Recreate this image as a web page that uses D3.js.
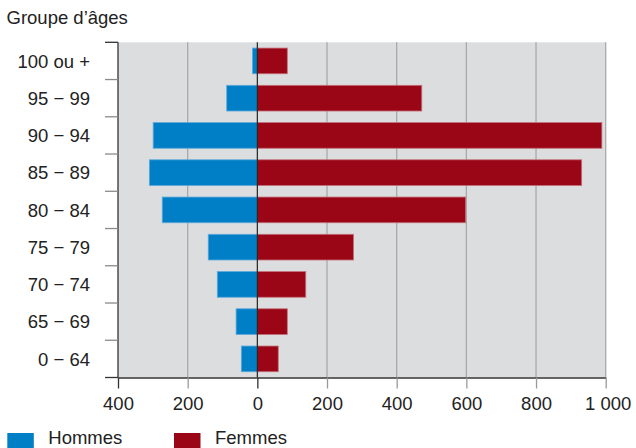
<!DOCTYPE html>
<html>
<head>
<meta charset="utf-8">
<script src="https://cdn.jsdelivr.net/npm/d3@7"></script>
<style>
  html, body { margin: 0; padding: 0; background: #ffffff; }
  svg { display: block; font-family: "Liberation Sans", Arial, sans-serif; }
</style>
</head>
<body>
<svg id="chart" width="636" height="448"></svg>
<script>
// Data
const categories = ["100 ou +", "95 \u2212 99", "90 \u2212 94", "85 \u2212 89", "80 \u2212 84", "75 \u2212 79", "70 \u2212 74", "65 \u2212 69", "0 \u2212 64"];
const hommes = [14, 88, 299, 310, 273, 141, 115, 61, 46];
const femmes = [86, 472, 989, 931, 598, 276, 139, 86, 60];
const xTicks = [-400, -200, 0, 200, 400, 600, 800, 1000];
const seriesNames = ["Hommes", "Femmes"];
const colors = ["#007ec6", "#9b0616"];
const titleText = "Groupe d\u2019\u00e2ges";

(function () {
const FS = 18.5;
const svg = d3.select("#chart");
const mLeft = 118, mRight = 605.7, mTop = 42.3, mBottom = 377.5;

const x = d3.scaleLinear().domain([-400, 1000]).range([mLeft, mRight]);
const yBand = d3.scaleBand().domain(categories).range([mTop, mBottom]).paddingInner(0.31).paddingOuter(0.155);
const yEdge = d3.scaleBand().domain(categories).range([mTop, mBottom]).padding(0);

// background
svg.append("rect").attr("x", mLeft).attr("y", mTop).attr("width", mRight - mLeft).attr("height", mBottom - mTop).attr("fill", "#dcdddf");

// gridlines
svg.append("g").selectAll("line").data(xTicks.filter(d => d !== -400 && d !== 0))
  .join("line")
  .attr("x1", d => x(d)).attr("x2", d => x(d))
  .attr("y1", mTop).attr("y2", mBottom)
  .attr("stroke", "#a9a9ab").attr("stroke-width", 1.3);

// bars
const bars = svg.append("g");
bars.selectAll("rect.h").data(categories).join("rect")
  .attr("class", "h")
  .attr("x", (d, i) => x(-hommes[i]))
  .attr("width", (d, i) => x(0) - x(-hommes[i]))
  .attr("y", d => yBand(d))
  .attr("height", yBand.bandwidth())
  .attr("fill", colors[0])
  .attr("stroke", "#5eaadb").attr("stroke-width", 0.8);
bars.selectAll("rect.f").data(categories).join("rect")
  .attr("class", "f")
  .attr("x", x(0))
  .attr("width", (d, i) => x(femmes[i]) - x(0))
  .attr("y", d => yBand(d))
  .attr("height", yBand.bandwidth())
  .attr("fill", colors[1])
  .attr("stroke", "#c2707a").attr("stroke-width", 0.8);

// zero line
svg.append("line").attr("x1", x(0)).attr("x2", x(0)).attr("y1", mTop).attr("y2", mBottom)
  .attr("stroke", "#222").attr("stroke-width", 1.2);

// x axis
const fmt = d => { const a = Math.abs(d); return a >= 1000 ? d3.format(",")(a).replace(",", "\u00a0") : String(a); };
const xAxis = svg.append("g").attr("transform", `translate(0,${mBottom})`)
  .call(d3.axisBottom(x).tickValues(xTicks).tickFormat(fmt).tickSize(11).tickPadding(8).tickSizeOuter(0));
xAxis.select(".domain").attr("stroke", "#333").attr("stroke-width", 1.3);
xAxis.selectAll(".tick line").attr("stroke", (d) => (d === 0 || d === -400) ? "#333" : "#999").attr("stroke-width", 1.3);
xAxis.selectAll(".tick text").attr("font-size", FS).attr("fill", "#222").attr("font-family", "Liberation Sans, Arial, sans-serif")
  .attr("dx", d => d === 1000 ? 2 : 0);

// y axis line and ticks
svg.append("line").attr("x1", mLeft).attr("x2", mLeft).attr("y1", mTop).attr("y2", mBottom)
  .attr("stroke", "#333").attr("stroke-width", 1.3);
const edges = categories.map(c => yEdge(c)).concat([mBottom]);
svg.append("g").selectAll("line").data(edges).join("line")
  .attr("x1", 105).attr("x2", mLeft)
  .attr("y1", d => d).attr("y2", d => d)
  .attr("stroke", (d, i) => i === 0 || i === edges.length - 1 ? "#333" : "#8a8a8a")
  .attr("stroke-width", 1.3);

// category labels
svg.append("g").selectAll("text").data(categories).join("text")
  .attr("x", 90)
  .attr("y", d => yEdge(d) + yEdge.bandwidth() / 2)
  .attr("dy", "0.36em")
  .attr("text-anchor", "end")
  .attr("font-size", FS).attr("fill", "#222")
  .text(d => d);

// title
svg.append("text").attr("x", 6.5).attr("y", 24).attr("font-size", FS).attr("fill", "#222").text(titleText);

// legend
const legX = [7.3, 174];
const leg = svg.append("g").selectAll("g").data(seriesNames).join("g")
  .attr("transform", (d, i) => `translate(${legX[i]},0)`);
leg.append("rect").attr("x", 0).attr("y", 433).attr("width", 26.5).attr("height", 15).attr("fill", (d, i) => colors[i]);
leg.append("text").attr("x", 41).attr("y", 444).attr("font-size", FS).attr("fill", "#222").text(d => d);
})();
</script>
</body>
</html>
